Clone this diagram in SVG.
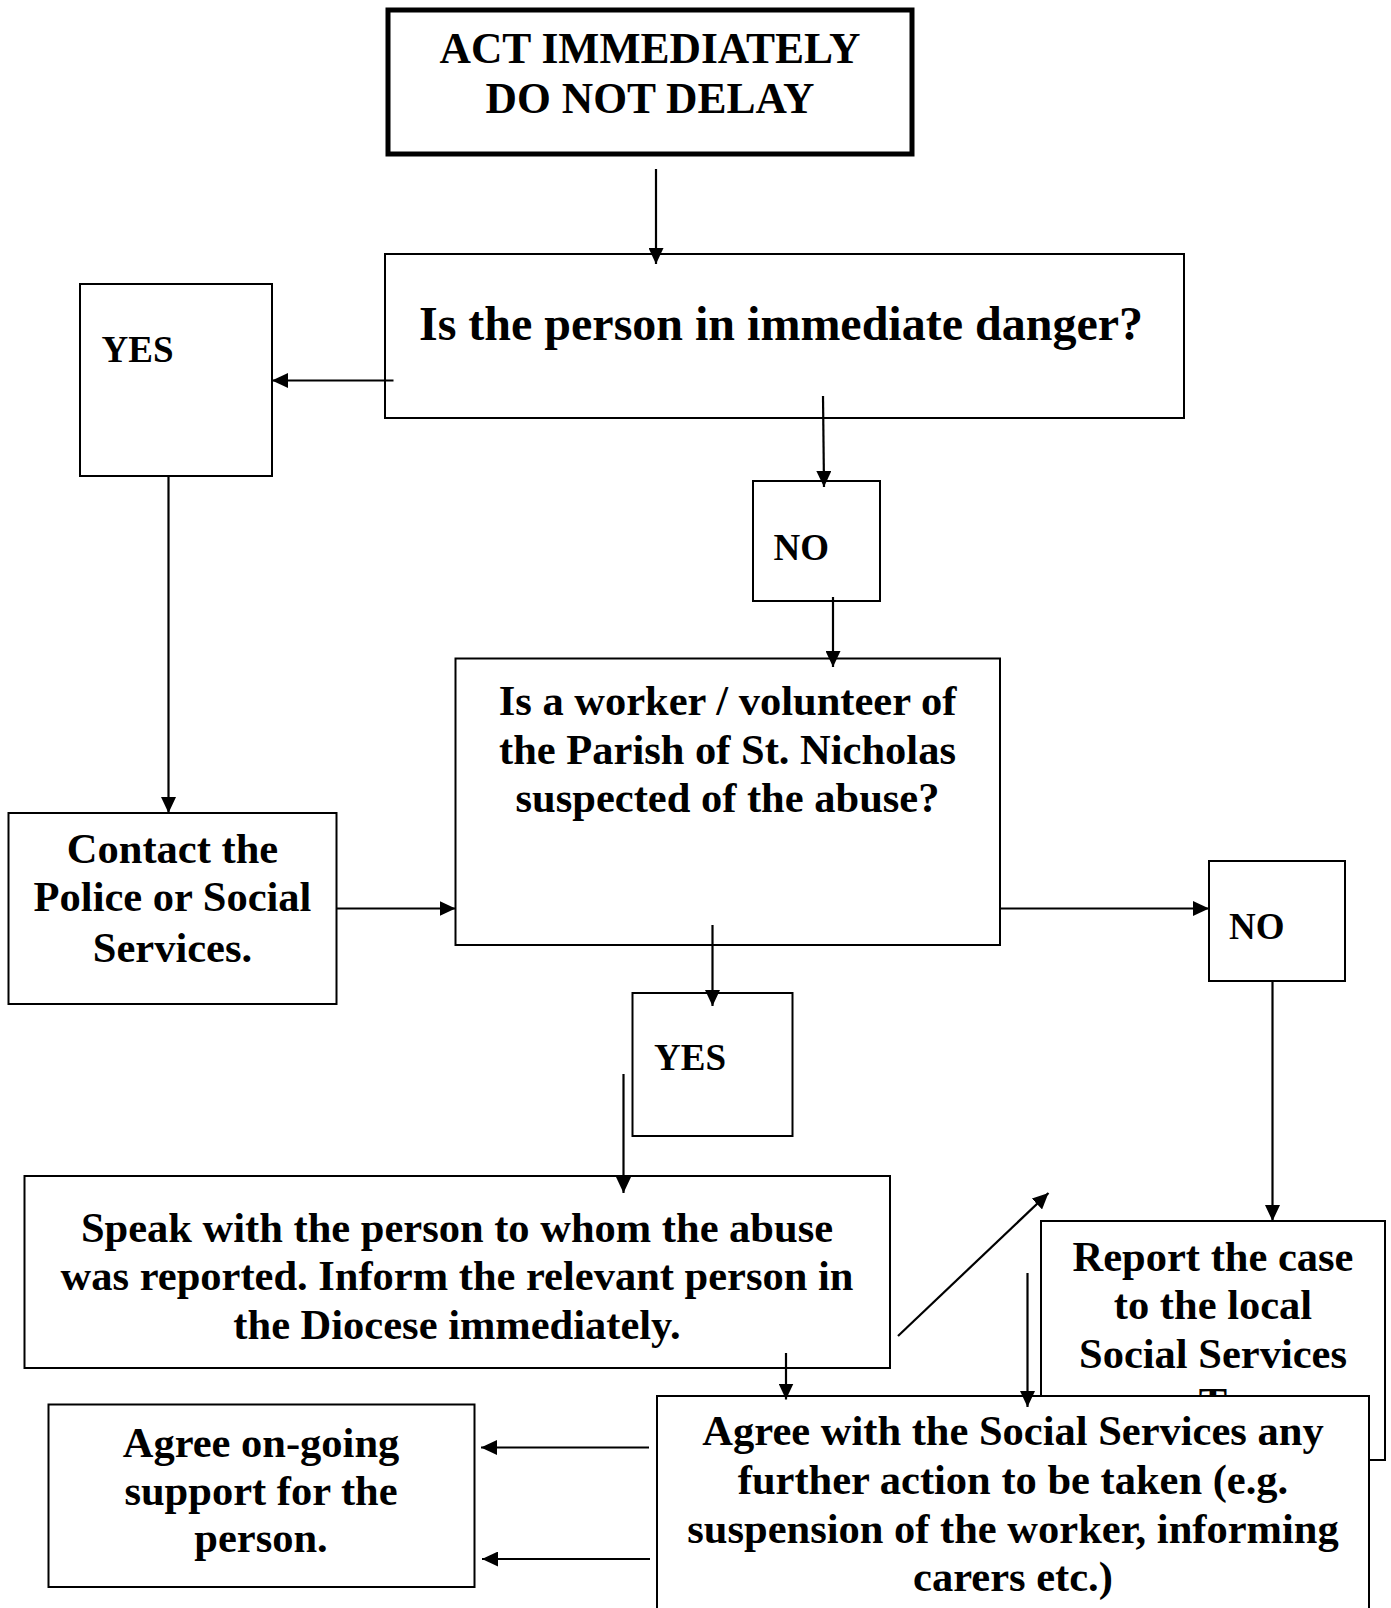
<svg xmlns="http://www.w3.org/2000/svg" width="1391" height="1608" viewBox="0 0 1391 1608">
<style>
.box{fill:#fff;stroke:#000;stroke-width:2}
.t{font-family:"Liberation Serif","Times New Roman",serif;font-weight:bold;font-size:42.5px;fill:#000;text-anchor:middle}
.s{font-family:"Liberation Serif","Times New Roman",serif;font-weight:bold;font-size:37px;fill:#000}
.q{font-size:48px}
.h{font-size:43.5px}
.c{fill:none;stroke:#000;stroke-width:2.2;marker-end:url(#ah)}
</style>
<defs>
<marker id="ah" markerUnits="userSpaceOnUse" markerWidth="17" markerHeight="15" refX="16" refY="7.5" orient="auto">
<path d="M0,0 L16,7.5 L0,15 z" fill="#000"/>
</marker>
<clipPath id="repclip"><rect x="1030" y="1210" width="361" height="186"/></clipPath>
</defs>
<rect width="1391" height="1608" fill="#fff"/>
<g id="act">
<rect x="388" y="10" width="524" height="144" fill="#fff" stroke="#000" stroke-width="5"/>
<text class="t h" x="650" y="63">ACT IMMEDIATELY</text>
<text class="t h" x="650" y="113">DO NOT DELAY</text>
</g>
<g id="danger">
<rect class="box" x="385" y="254" width="799" height="164"/>
<text class="t q" x="781" y="340">Is the person in immediate danger?</text>
</g>
<g id="yes1">
<rect class="box" x="80" y="284" width="192" height="192"/>
<text class="s" x="101.5" y="361.5">YES</text>
</g>
<g id="no1">
<rect class="box" x="753" y="481" width="127" height="120"/>
<text class="s" x="773.5" y="560">NO</text>
</g>
<g id="worker">
<rect class="box" x="455.5" y="658.5" width="544.5" height="286.5"/>
<text class="t" x="727.5" y="715">Is a worker / volunteer of</text>
<text class="t" x="727.5" y="763.5">the Parish of St. Nicholas</text>
<text class="t" x="727.5" y="812">suspected of the abuse?</text>
</g>
<g id="contact">
<rect class="box" x="8.5" y="813" width="328" height="191"/>
<text class="t" x="172.5" y="863">Contact the</text>
<text class="t" x="172.5" y="911">Police or Social</text>
<text class="t" x="172.5" y="961.5">Services.</text>
</g>
<g id="no2">
<rect class="box" x="1209" y="861" width="136" height="120"/>
<text class="s" x="1229" y="939">NO</text>
</g>
<g id="yes2">
<rect class="box" x="632.5" y="993" width="160" height="143"/>
<text class="s" x="654" y="1070">YES</text>
</g>
<g id="speak">
<rect class="box" x="24.5" y="1176" width="865.5" height="192"/>
<text class="t" x="457" y="1242">Speak with the person to whom the abuse</text>
<text class="t" x="457" y="1290">was reported. Inform the relevant person in</text>
<text class="t" x="457" y="1338.5">the Diocese immediately.</text>
</g>
<g id="report">
<rect class="box" x="1041" y="1221" width="344" height="239"/>
<g clip-path="url(#repclip)">
<text class="t" x="1213" y="1271">Report the case</text>
<text class="t" x="1213" y="1318.5">to the local</text>
<text class="t" x="1213" y="1368">Social Services</text>
<text class="t" x="1213" y="1416.5">T</text>
</g>
</g>
<g id="agree">
<rect class="box" x="657" y="1396" width="712" height="230"/>
<text class="t" x="1013" y="1445">Agree with the Social Services any</text>
<text class="t" x="1013" y="1493.5">further action to be taken (e.g.</text>
<text class="t" x="1013" y="1542.5">suspension of the worker, informing</text>
<text class="t" x="1013" y="1591">carers etc.)</text>
</g>
<g id="support">
<rect class="box" x="48.5" y="1404.5" width="426" height="182.5"/>
<text class="t" x="261" y="1456.5">Agree on-going</text>
<text class="t" x="261" y="1505">support for the</text>
<text class="t" x="261" y="1552">person.</text>
</g>
<g id="connectors">
<line class="c" x1="656" y1="169" x2="656" y2="264"/>
<line class="c" x1="393.5" y1="380.5" x2="272" y2="380.5"/>
<line class="c" x1="823" y1="396" x2="824" y2="487"/>
<line class="c" x1="833" y1="597" x2="833" y2="667"/>
<line class="c" x1="168.5" y1="476" x2="168.5" y2="813"/>
<line class="c" x1="336.5" y1="908.5" x2="455.5" y2="908.5"/>
<line class="c" x1="1000" y1="908.5" x2="1209" y2="908.5"/>
<line class="c" x1="712.5" y1="925" x2="712.5" y2="1006"/>
<line class="c" x1="1272.5" y1="981" x2="1272.5" y2="1221"/>
<line class="c" x1="623.5" y1="1074" x2="623.5" y2="1193"/>
<line class="c" x1="898" y1="1336" x2="1048.5" y2="1193"/>
<line class="c" x1="786" y1="1353" x2="786" y2="1399.5"/>
<line class="c" x1="1027.5" y1="1273" x2="1027.5" y2="1407"/>
<line class="c" x1="649" y1="1447.5" x2="481" y2="1447.5"/>
<line class="c" x1="650" y1="1559" x2="482" y2="1559"/>
</g>
</svg>
